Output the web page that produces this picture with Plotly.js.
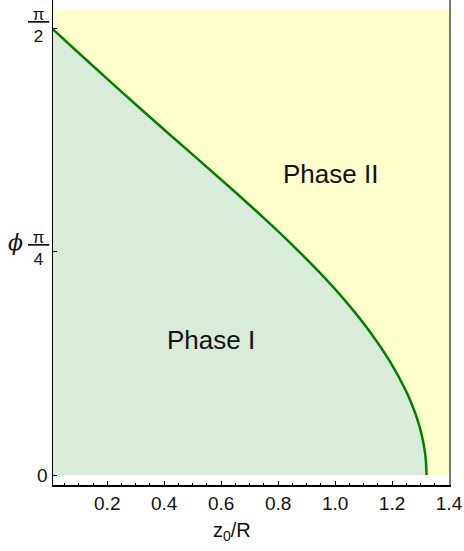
<!DOCTYPE html>
<html>
<head>
<meta charset="utf-8">
<script src="https://cdn.plot.ly/plotly-3.0.1.min.js"></script>
<style>html,body{margin:0;padding:0;background:#fff;}#chart{width:464px;height:551px;}</style>
</head>
<body>
<div id="chart"></div>
<script>
// Phase boundary curve (z0/R vs phi)
const boundaryX = [0.0095, 0.0845, 0.194, 0.305, 0.418, 0.532, 0.645, 0.755, 0.860, 0.958, 1.047, 1.1255, 1.1925, 1.247, 1.269, 1.2875, 1.302, 1.3125, 1.3189, 1.321];
const boundaryPhi = [1.569, 1.5, 1.4, 1.3, 1.2, 1.1, 1.0, 0.9, 0.8, 0.7, 0.6, 0.5, 0.4, 0.3, 0.25, 0.2, 0.15, 0.1, 0.05, 0.0];
// Phase II region extent
const regionX = [0.0095, 1.4, 1.4, 0.0095];
const regionPhi = [0, 0, 1.641, 1.641];
// Axis ranges and ticks
const xRange = [0.0095, 1.4];
const yRange = [-0.0352, 1.6725];
const xTickVals = [0.2, 0.4, 0.6, 0.8, 1.0, 1.2, 1.4];
const xTickText = ['0.2', '0.4', '0.6', '0.8', '1.0', '1.2', '1.4'];
const yTickVals = [0, Math.PI / 4, Math.PI / 2];
const yTickText = ['0', ' ', ' '];
const yFracVals = [Math.PI / 4, Math.PI / 2];
const yFracText = ['<span style="text-decoration:underline"> π </span><br>4',
                   '<span style="text-decoration:underline"> π </span><br>2'];
const xTitle = 'z<sub>0</sub>/R';
const xTitlePos = 0.637;
const phaseLabels = [{x: 0.564, y: 0.475, text: 'Phase I'}, {x: 0.985, y: 1.06, text: 'Phase II'}];

const traces = [
  {x: regionX, y: regionPhi, type: 'scatter', mode: 'lines', fill: 'toself',
   fillcolor: '#ffffcc', line: {width: 0}, hoverinfo: 'skip', showlegend: false},
  {x: boundaryX, y: boundaryPhi, type: 'scatter', mode: 'lines', fill: 'tozeroy',
   fillcolor: '#d9ebd9', line: {color: '#008000', width: 2.5, shape: 'spline', smoothing: 0.8}, showlegend: false},
  {x: [xRange[0]], y: [0], yaxis: 'y2', type: 'scatter', mode: 'markers',
   marker: {opacity: 0}, hoverinfo: 'skip', showlegend: false}
];

const layout = {
  width: 464, height: 551,
  margin: {l: 53, r: 15, t: 0, b: 66},
  paper_bgcolor: '#fff', plot_bgcolor: '#fff',
  font: {family: 'Liberation Sans, Arial, sans-serif', color: '#111'},
  showlegend: false,
  xaxis: {
    range: xRange, showgrid: false, zeroline: false,
    showline: true, linecolor: '#000', linewidth: 1.5,
    tickvals: xTickVals, ticktext: xTickText,
    ticks: 'inside', ticklen: 4, tickcolor: '#000', tickwidth: 1,
    minor: {dtick: 0.05, tick0: 0, ticks: 'inside', ticklen: 2, tickcolor: '#000', showgrid: false},
    tickfont: {size: 19, color: '#111'}, ticklabelstandoff: 1
  },
  yaxis: {
    range: yRange, showgrid: false, zeroline: false,
    showline: true, linecolor: '#000', linewidth: 1.5,
    tickvals: yTickVals, ticktext: yTickText,
    ticks: 'inside', ticklen: 4, tickcolor: '#000',
    tickfont: {size: 19, color: '#111'}
  },
  yaxis2: {
    range: yRange, overlaying: 'y', side: 'right', showgrid: false, zeroline: false,
    showline: true, linecolor: '#777', linewidth: 1.5, showticklabels: false, ticks: ''
  },
  annotations: phaseLabels.map(p => ({
    x: p.x, y: p.y, xref: 'x', yref: 'y', text: p.text, showarrow: false,
    font: {size: 26, color: '#111'}
  })).concat(yFracVals.map((v, i) => ({
    x: 0, xref: 'paper', xanchor: 'right', xshift: -2,
    y: v, yref: 'y', yanchor: 'middle', yshift: 3, text: yFracText[i], showarrow: false,
    font: {size: 17, color: '#111'}
  }))).concat([{
    x: 0, xref: 'paper', xanchor: 'center', xshift: -38,
    y: Math.PI / 4, yref: 'y', yshift: 9, text: '<i>ϕ</i>', showarrow: false,
    font: {size: 22, color: '#111', family: 'DejaVu Serif, serif'}
  }, {
    x: xTitlePos, xref: 'x', xanchor: 'center',
    y: 0, yref: 'paper', yanchor: 'middle', yshift: -46, text: xTitle, showarrow: false,
    font: {size: 20, color: '#111'}
  }])
};

Plotly.newPlot('chart', traces, layout, {displayModeBar: false, staticPlot: true});
</script>
</body>
</html>
